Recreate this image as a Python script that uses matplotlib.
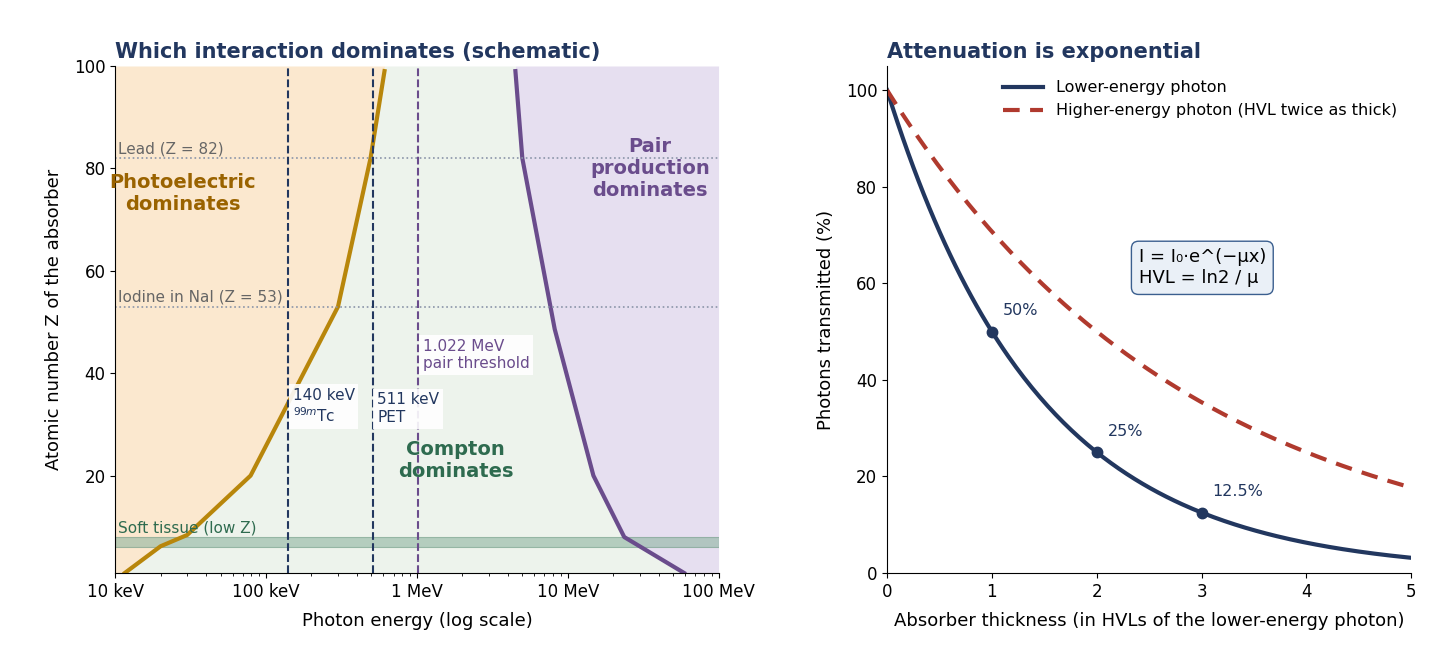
import numpy as np
import matplotlib
matplotlib.use('Agg')
import matplotlib.pyplot as plt

# Left panel: boundaries (keV, Z)
pe_energy = [11.6, 20, 30, 79, 300, 493, 610]
pe_z = [1, 6.2, 8.4, 20, 53, 82, 99]
pp_energy = [4500, 5000, 8200, 14800, 23700, 59000]
pp_z = [99, 82, 48.6, 20, 8, 1]

# Right panel
thickness = np.linspace(0, 5, 200)
marker_x = [1, 2, 3]
marker_labels = ['50%', '25%', '12.5%']

NAVY = '#22375f'
ORANGE = '#b8860b'
PURPLE = '#6a4c8c'
GREEN = '#2e6b4f'
RED = '#b03a2e'

fig = plt.figure(figsize=(14.4, 6.6), dpi=100)
ax = fig.add_axes([0.08, 0.132, 0.419, 0.768])
ax2 = fig.add_axes([0.616, 0.132, 0.364, 0.768])

ax.set_xscale('log')
ax.set_xlim(10, 1e5)
ax.set_ylim(1, 100)

zz = np.linspace(1, 100, 2000)
pe_x = 10 ** np.interp(zz, pe_z, np.log10(pe_energy))
pp_x = 10 ** np.interp(zz, pp_z[::-1], np.log10(pp_energy[::-1]))
ax.fill_betweenx(zz, 10, pe_x, color='#fbe8cf', lw=0)
ax.fill_betweenx(zz, pe_x, pp_x, color='#edf3ec', lw=0)
ax.fill_betweenx(zz, pp_x, 1e5, color='#e6dff0', lw=0)
ax.plot(pe_energy, pe_z, color=ORANGE, lw=3)
ax.plot(pp_energy, pp_z, color=PURPLE, lw=3)

ax.axhspan(6, 8, color='#8fb5a0', alpha=0.6, lw=0.8, ec='#6f9a84')
ax.text(10.5, 8.8, 'Soft tissue (low Z)', color=GREEN, fontsize=11)
for z, lab in [(82, 'Lead (Z = 82)'), (53, 'Iodine in NaI (Z = 53)')]:
    ax.axhline(z, color='#8a94a8', ls=':', lw=1.2)
    ax.text(10.5, z + 1, lab, color='#666666', fontsize=11)

ax.axvline(140, color=NAVY, ls='--', lw=1.5)
ax.axvline(511, color=NAVY, ls='--', lw=1.5)
ax.axvline(1022, color=PURPLE, ls='--', lw=1.5)
bb = dict(boxstyle='square,pad=0.25', fc='white', ec='none', alpha=0.9)
ax.text(150, 30.5, '140 keV\n$^{99m}$Tc', color=NAVY, fontsize=11, bbox=bb)
ax.text(545, 30.5, '511 keV\nPET', color=NAVY, fontsize=11, bbox=bb)
ax.text(1090, 41, '1.022 MeV\npair threshold', color=PURPLE, fontsize=11, bbox=bb)

ax.text(28, 75, 'Photoelectric\ndominates', color='#9a6300', fontsize=14,
        fontweight='bold', ha='center', va='center')
ax.text(1800, 23, 'Compton\ndominates', color=GREEN, fontsize=14,
        fontweight='bold', ha='center', va='center')
ax.text(35000, 80, 'Pair\nproduction\ndominates', color=PURPLE, fontsize=14,
        fontweight='bold', ha='center', va='center')

ax.set_xticks([10, 100, 1000, 1e4, 1e5])
ax.set_xticklabels(['10 keV', '100 keV', '1 MeV', '10 MeV', '100 MeV'])
ax.set_yticks([20, 40, 60, 80, 100])
ax.tick_params(labelsize=12)
ax.set_xlabel('Photon energy (log scale)', fontsize=13, labelpad=8)
ax.set_ylabel('Atomic number Z of the absorber', fontsize=13, labelpad=8)
ax.set_title('Which interaction dominates (schematic)', loc='left',
             color=NAVY, fontsize=15, fontweight='bold')
for s in ['top', 'right']:
    ax.spines[s].set_visible(False)

# Right panel
low = 100 * 0.5 ** thickness
high = 100 * 0.5 ** (thickness / 2)
ax2.plot(thickness, low, color=NAVY, lw=3, label='Lower-energy photon')
ax2.plot(thickness, high, color=RED, lw=3, ls=(0, (4, 2.5)),
         label='Higher-energy photon (HVL twice as thick)')
for x, lab in zip(marker_x, marker_labels):
    y = 100 * 0.5 ** x
    ax2.plot(x, y, 'o', color=NAVY, ms=7.5)
    ax2.annotate(lab, (x, y), xytext=(8, 12), textcoords='offset points',
                 color=NAVY, fontsize=11.5)
ax2.text(2.4, 60, 'I = I₀·e^(−μx)\nHVL = ln2 / μ', fontsize=13,
         bbox=dict(boxstyle='round,pad=0.4', fc='#eaf0f7', ec='#3b5f8f'))
ax2.set_xlim(0, 5)
ax2.set_ylim(0, 105)
ax2.set_yticks([0, 20, 40, 60, 80, 100])
ax2.tick_params(labelsize=12)
ax2.set_xlabel('Absorber thickness (in HVLs of the lower-energy photon)',
               fontsize=13, labelpad=8)
ax2.set_ylabel('Photons transmitted (%)', fontsize=13, labelpad=8)
ax2.set_title('Attenuation is exponential', loc='left', color=NAVY,
              fontsize=15, fontweight='bold')
ax2.legend(loc='upper right', frameon=False, fontsize=11.5, handlelength=2.5)
for s in ['top', 'right']:
    ax2.spines[s].set_visible(False)

fig.savefig('out.png', dpi=100)
